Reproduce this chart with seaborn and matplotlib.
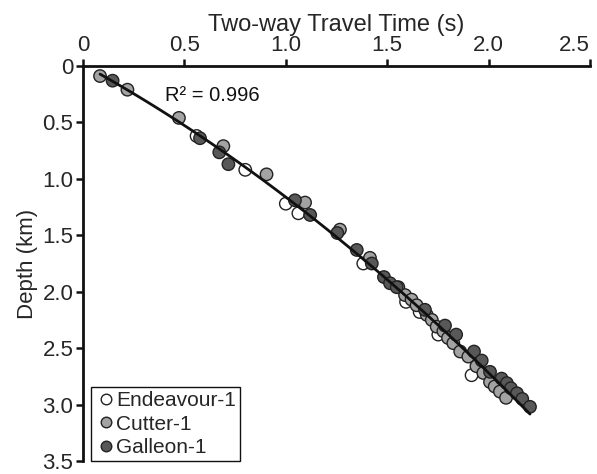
import numpy as np
import pandas as pd
import matplotlib
matplotlib.use("Agg")
import matplotlib.pyplot as plt
import seaborn as sns

# ---- data (TWT in s, depth in km) ----
endeavour_t = [0.56, 0.80, 1.00, 1.062, 1.382, 1.593, 1.66, 1.752, 1.916]
endeavour_d = [0.62, 0.92, 1.22, 1.305, 1.75, 2.09, 2.18, 2.38, 2.74]

cutter_t = [0.084, 0.219, 0.473, 0.692, 0.905, 1.095, 1.267, 1.415, 1.555, 1.588,
            1.62, 1.645, 1.695, 1.72, 1.744, 1.777, 1.80, 1.826, 1.86, 1.90,
            1.94, 1.974, 2.007, 2.03, 2.056, 2.086]
cutter_d = [0.089, 0.21, 0.46, 0.71, 0.96, 1.21, 1.45, 1.70, 1.96, 2.03,
            2.07, 2.12, 2.205, 2.25, 2.31, 2.35, 2.41, 2.456, 2.53, 2.575,
            2.66, 2.72, 2.80, 2.84, 2.885, 2.94]

galleon_t = [0.146, 0.577, 0.672, 0.717, 1.045, 1.12, 1.254, 1.35, 1.424, 1.484,
             1.514, 1.547, 1.686, 1.785, 1.84, 1.928, 1.966, 2.007, 2.064, 2.09,
             2.11, 2.14, 2.166, 2.204]
galleon_d = [0.13, 0.64, 0.765, 0.87, 1.19, 1.32, 1.48, 1.63, 1.75, 1.87,
             1.925, 1.96, 2.16, 2.30, 2.38, 2.53, 2.61, 2.71, 2.77, 2.81,
             2.855, 2.90, 2.95, 3.02]

wells = ["Endeavour-1", "Cutter-1", "Galleon-1"]
x_ticks = [0, 0.5, 1.0, 1.5, 2.0, 2.5]
x_ticklabels = ["0", "0.5", "1.0", "1.5", "2.0", "2.5"]
y_ticks = [0, 0.5, 1.0, 1.5, 2.0, 2.5, 3.0, 3.5]
y_ticklabels = ["0", "0.5", "1.0", "1.5", "2.0", "2.5", "3.0", "3.5"]
r2_text = "R² = 0.996"

df = pd.concat([
    pd.DataFrame({"twt": endeavour_t, "depth": endeavour_d, "well": wells[0]}),
    pd.DataFrame({"twt": cutter_t, "depth": cutter_d, "well": wells[1]}),
    pd.DataFrame({"twt": galleon_t, "depth": galleon_d, "well": wells[2]}),
], ignore_index=True)

sns.set_style("white")
plt.rcParams["font.family"] = ["Liberation Sans", "DejaVu Sans"]

fig = plt.figure(figsize=(5.97, 4.74), dpi=100)
ax = fig.add_axes([83/597, 1 - 461/474, (590-83)/597, (461-66)/474])

palette = {"Endeavour-1": "#ffffff", "Cutter-1": "#a3a3a3", "Galleon-1": "#585858"}
sns.scatterplot(data=df, x="twt", y="depth", hue="well", hue_order=wells,
                palette=palette, s=80, edgecolor="#222222", linewidth=1.0,
                ax=ax, zorder=3)
sns.regplot(data=df, x="twt", y="depth", order=2, scatter=False, ci=None,
            line_kws={"color": "#111111", "linewidth": 2.0, "zorder": 4}, ax=ax)

ax.set_xlim(0, 2.5)
ax.set_ylim(3.5, 0)
ax.xaxis.set_ticks_position("top")
ax.xaxis.set_label_position("top")
ax.set_xticks(x_ticks)
ax.set_xticklabels(x_ticklabels)
ax.set_yticks(y_ticks)
ax.set_yticklabels(y_ticklabels)
ax.set_xlabel("Two-way Travel Time (s)", fontsize=17, labelpad=3)
ax.set_ylabel("Depth (km)", fontsize=16, labelpad=3)
ax.tick_params(axis="both", direction="out", length=5, width=1.8, color="#111111",
               labelsize=16, pad=2, top=True, bottom=False, left=True, right=False)
ax.get_xticklabels()[-1].set_ha("right")
ax.get_xticklabels()[-1].set_x(2.5)

for side in ["right", "bottom"]:
    ax.spines[side].set_visible(False)
for side in ["left", "top"]:
    ax.spines[side].set_visible(True)
    ax.spines[side].set_linewidth(2.0)
    ax.spines[side].set_color("#111111")

ax.text(0.404, 0.26, r2_text, fontsize=14.5, ha="left", va="center", color="#111111")

leg = ax.legend(loc="lower left", bbox_to_anchor=(0.016, 0.0), borderaxespad=0,
                frameon=True, fancybox=False, fontsize=15, handletextpad=0.0,
                borderpad=0.2, labelspacing=0.2, handlelength=1.0,
                markerscale=0.85)
leg.get_frame().set_edgecolor("#111111")
leg.get_frame().set_linewidth(1.0)
leg.get_frame().set_alpha(1)

fig.savefig("out.png", dpi=100)
